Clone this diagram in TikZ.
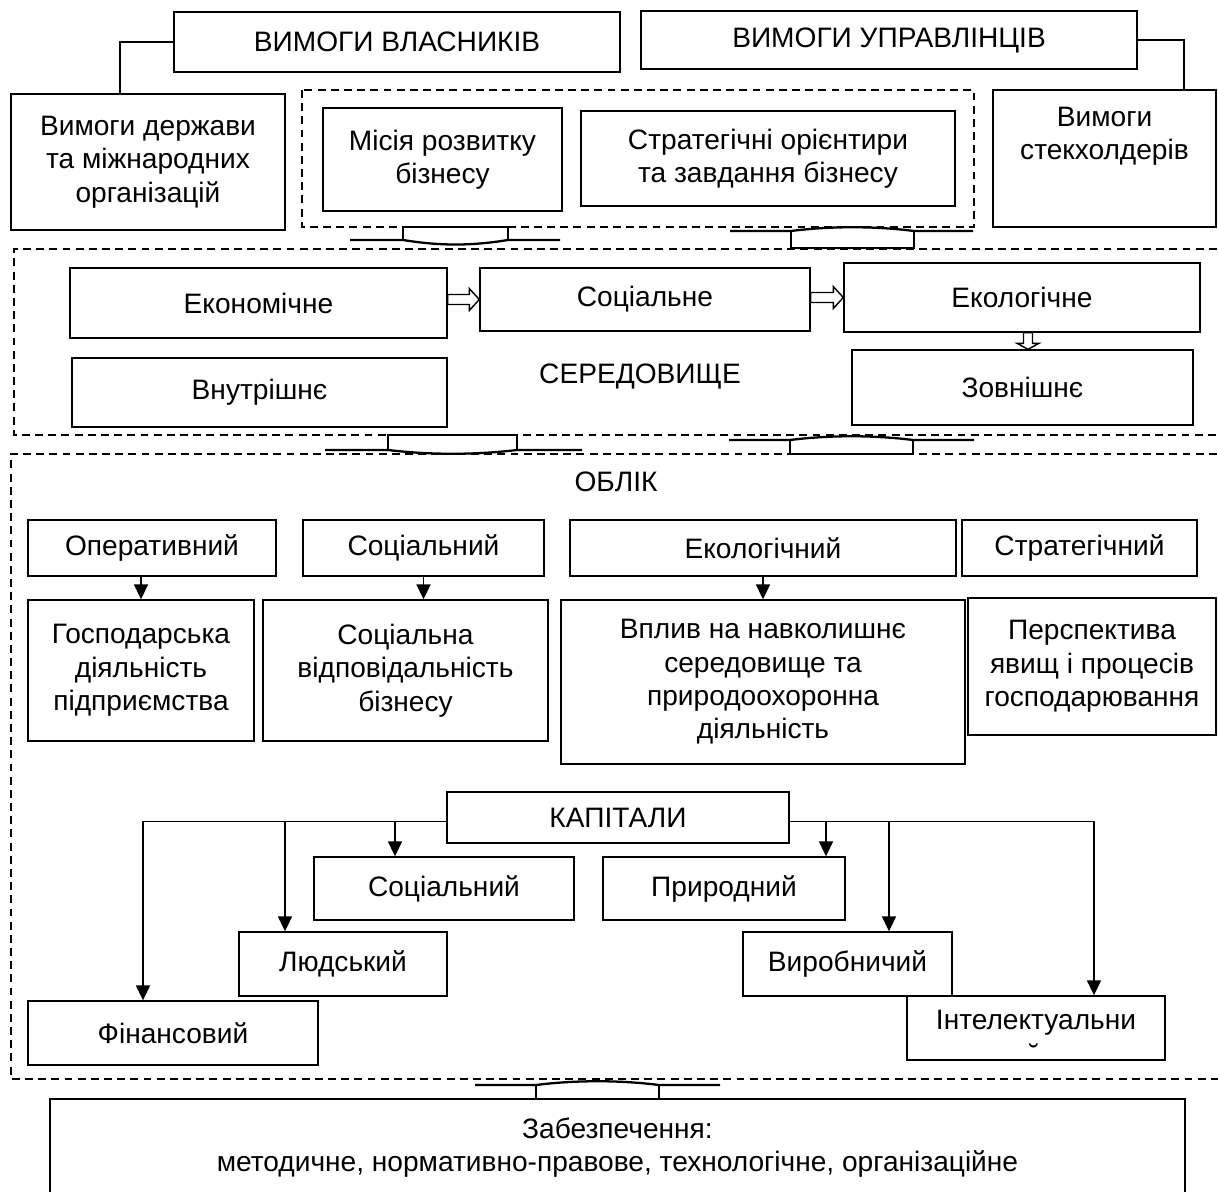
\documentclass[tikz,border=0pt]{standalone}
\usepackage{fontspec}
\setmainfont{Liberation Sans}
\usetikzlibrary{arrows.meta, calc}

\tikzset{
    box/.style={draw, line width=0.8pt, align=center, inner sep=2pt},
    sz/.style 2 args={minimum width=#1*0.02cm, minimum height=#2*0.02cm},
    frame/.style={line width=0.6pt, dash pattern=on 4.5pt off 3pt},
    link/.style={line width=0.8pt},
    arr/.style={line width=0.8pt, -{Triangle[length=8.5pt, width=8pt]}},
    hollow/.style={line width=0.8pt, fill=white},
    banner/.style={line width=1.3pt},
}

\begin{document}
\begin{tikzpicture}[x=0.02cm, y=-0.02cm, font=\fontsize{16}{19}\selectfont]
    \useasboundingbox (0,0) rectangle (1218,1191);

    % Requirements
    \node[box, sz={446}{60}] (own) at (397,42) {ВИМОГИ ВЛАСНИКІВ};
    \node[box, sz={496}{58}] (mgr) at (889,40) {ВИМОГИ УПРАВЛІНЦІВ};
    \node[box, sz={274}{136}] (state) at (148,162) {Вимоги держави\\та міжнародних\\організацій};
    \node[box, sz={223}{137}] (stake) at (1104.5,158.5) {};
    \node[align=center] (staketext) at (1104.5,136) {Вимоги\\стекхолдерів};
    \draw[link] (own.west) -| ($(state.north)+(-28,0)$);
    \draw[link] (mgr.east) -| ($(stake.north)+(79.5,0)$);

    \draw[frame] (302,90) rectangle (974,227); % mission group
    \node[box, sz={239}{103}] (mis) at (442.5,159.5) {Місія розвитку\\бізнесу};
    \node[box, sz={374}{95}] (strat) at (768,158.5) {Стратегічні орієнтири\\та завдання бізнесу};

    % curved block arrows
    \draw[banner] (350,240) -- (403,240) .. controls (440,246) and (471,246) .. (508,240) -- (560,240);
    \draw[link] (403,240) -- (403,227) -- (508,227) -- (508,240);
    \draw[banner] (730,231) -- (791,231) .. controls (830,226) and (875,226) .. (914,231) -- (973,231);
    \draw[link] (791,231) -- (791,248) -- (914,248) -- (914,231);

    % Environment
    \draw[frame] (1230,249) -- (14,249) -- (14,435) -- (1230,435);
    \node[box, sz={377}{70}] (econ) at (258.5,303) {Економічне};
    \node[box, sz={330}{63}] (soc) at (645,299.5) {Соціальне};
    \node[box, sz={356}{69}] (eco) at (1022,297.5) {Екологічне};
    \node[box, sz={375}{69}] (inner) at (259.5,392.5) {Внутрішнє};
    \node[box, sz={341}{75}] (outer) at (1022.5,387.5) {Зовнішнє};
    \node (envtitle) at (640,376) {СЕРЕДОВИЩЕ};

    \coordinate (e1) at (econ.east |- soc.west);
    \draw[hollow] ($(e1)+(0,-5)$) -- ($(soc.west)+(-10,-5)$) -- ($(soc.west)+(-10,-11)$) -- (soc.west)
        -- ($(soc.west)+(-10,11)$) -- ($(soc.west)+(-10,5)$) -- ($(e1)+(0,5)$) -- cycle;
    \coordinate (e2) at (soc.east |- eco.west);
    \draw[hollow] ($(e2)+(0,-5)$) -- ($(eco.west)+(-10,-5)$) -- ($(eco.west)+(-10,-11)$) -- (eco.west)
        -- ($(eco.west)+(-10,11)$) -- ($(eco.west)+(-10,5)$) -- ($(e2)+(0,5)$) -- cycle;
    \coordinate (d1) at ($(outer.north)+(5.5,0)$);
    \coordinate (d0) at (d1 |- eco.south);
    \draw[hollow] ($(d0)+(-4.5,0)$) -- ($(d1)+(-4.5,-6)$) -- ($(d1)+(-11,-6)$) -- (d1)
        -- ($(d1)+(11,-6)$) -- ($(d1)+(4.5,-6)$) -- ($(d0)+(4.5,0)$) -- cycle;

    \draw[banner] (325,450) -- (388,450) .. controls (430,455) and (475,455) .. (517,450) -- (582,450);
    \draw[link] (388,450) -- (388,435) -- (517,435) -- (517,450);
    \draw[banner] (729,440) -- (790,440) .. controls (830,435) and (873,435) .. (913,440) -- (974,440);
    \draw[link] (790,440) -- (790,454) -- (913,454) -- (913,440);

    % Accounting
    \draw[frame] (1230,454) -- (11,454) -- (11,1079) -- (1230,1079);
    \node (acctitle) at (616,482) {ОБЛІК};
    \node[box, sz={248}{56}] (oper) at (152,548) {Оперативний};
    \node[box, sz={241}{56}] (socacc) at (423.5,548) {Соціальний};
    \node[box, sz={386}{56}] (ecoacc) at (763,548) {Екологічний};
    \node[box, sz={235}{56}] (stracc) at (1079.5,548) {Стратегічний};
    \node[box, sz={226}{141}] (gosp) at (141,670.5) {Господарська\\діяльність\\підприємства};
    \node[box, sz={285}{141}] (socresp) at (405.5,670.5) {Соціальна\\відповідальність\\бізнесу};
    \node[box, sz={404}{164}] (vplyv) at (763,682) {Вплив на навколишнє\\середовище та\\природоохоронна\\діяльність};
    \node[box, sz={248}{137}] (persp) at (1092,666.5) {Перспектива\\явищ і процесів\\господарювання};
    \draw[arr] (gosp.north |- oper.south) -- (gosp.north);
    \draw[arr] (socacc.south) -- (socacc.south |- socresp.north);
    \draw[arr] (ecoacc.south) -- (ecoacc.south |- vplyv.north);

    % Capitals
    \node[box, sz={342}{51}] (cap) at (618,817.5) {КАПІТАЛИ};
    \node[box, sz={260}{63}] (ccsoc) at (444,888.5) {Соціальний};
    \node[box, sz={242}{63}] (cnat) at (724,888.5) {Природний};
    \node[box, sz={208}{64}] (chum) at (343,964) {Людський};
    \node[box, sz={209}{64}] (cprod) at (847.5,964) {Виробничий};
    \node[box, sz={290}{64}] (cfin) at (173,1033) {Фінансовий};
    \node[box, sz={258}{64}] (cint) at (1036,1028) {};
    \node (cinttext) at (1036,1023) {Інтелектуальни};
    \node[anchor=base] (cintbreve) at (1034,1064) {˘};

    \coordinate (capL) at ($(cap.west)+(0,4)$);
    \coordinate (capR) at ($(cap.east)+(0,4)$);
    \coordinate (kf) at ($(cfin.north)+(-30,0)$);
    \coordinate (kh) at ($(chum.north)+(-58,0)$);
    \coordinate (ks) at ($(ccsoc.north)+(-49,0)$);
    \coordinate (kn) at ($(cnat.north)+(102,0)$);
    \coordinate (kp) at ($(cprod.north)+(41.5,0)$);
    \coordinate (ki) at ($(cint.north)+(58,0)$);
    \draw[arr] (capL) -| (kf);
    \draw[arr] (kh |- capL) -- (kh);
    \draw[arr] (ks |- capL) -- (ks);
    \draw[arr] (capR) -| (ki);
    \draw[arr] (kp |- capR) -- (kp);
    \draw[arr] (kn |- capR) -- (kn);

    % Support
    \draw[banner] (475,1085) -- (536,1085) .. controls (575,1080) and (620,1080) .. (659,1085) -- (720,1085);
    \draw[link] (536,1085) -- (536,1099) -- (659,1099) -- (659,1085);
    \node[box, sz={1135}{97}] (supp) at (617.5,1147.5) {Забезпечення:\\методичне, нормативно-правове, технологічне, організаційне};
\end{tikzpicture}
\end{document}
